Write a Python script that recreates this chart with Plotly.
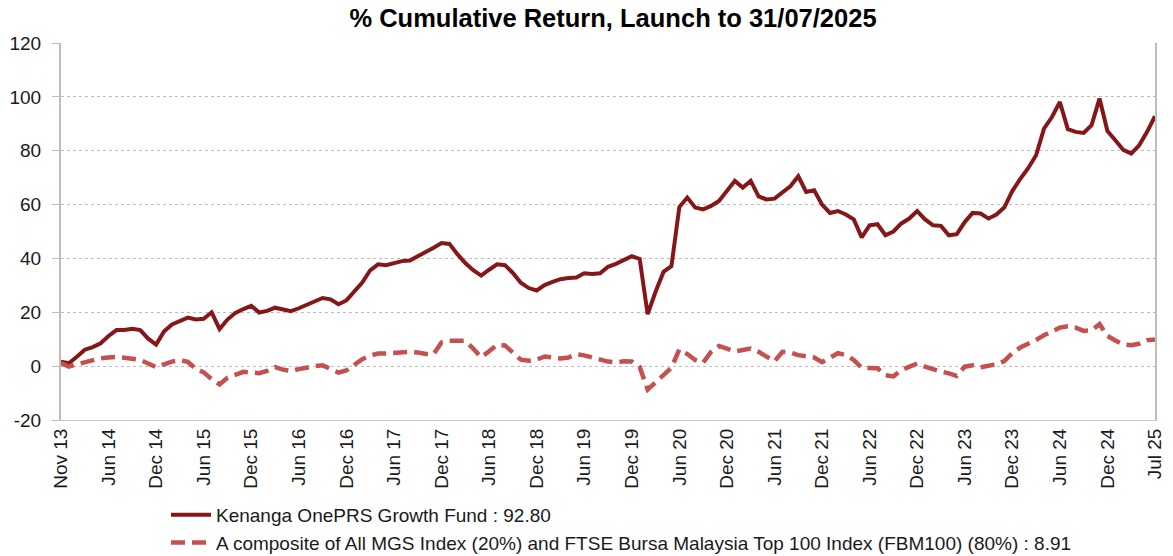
import plotly.graph_objects as go

title = "% Cumulative Return, Launch to 31/07/2025"
fund_name = "Kenanga OnePRS Growth Fund : 92.80"
bench_name = "A composite of All MGS Index (20%) and FTSE Bursa Malaysia Top 100 Index (FBM100) (80%) : 8.91"

tick_labels = ["Nov 13", "Jun 14", "Dec 14", "Jun 15", "Dec 15", "Jun 16", "Dec 16",
               "Jun 17", "Dec 17", "Jun 18", "Dec 18", "Jun 19", "Dec 19", "Jun 20",
               "Dec 20", "Jun 21", "Dec 21", "Jun 22", "Dec 22", "Jun 23", "Dec 23",
               "Jun 24", "Dec 24", "Jul 25"]
points_per_label = 6

fund = [1.6, 1.1, 3.5, 6.1, 7.1, 8.5, 11.2, 13.4, 13.4, 13.9,
        13.4, 10.2, 8.0, 12.9, 15.5, 16.9, 18.0, 17.3, 17.6, 20.0,
        13.8, 17.3, 19.8, 21.2, 22.4, 19.9, 20.5, 21.7, 21.0, 20.4,
        21.5, 22.9, 24.0, 25.3, 24.8, 23.0, 24.4, 27.6, 31.0, 35.6,
        37.8, 37.5, 38.3, 39.0, 39.2, 40.7, 42.4, 44.0, 45.7, 45.4,
        41.6, 38.3, 35.6, 33.6, 35.8, 37.8, 37.5, 34.6, 31.0, 29.0,
        28.1, 30.1, 31.3, 32.3, 32.7, 32.9, 34.5, 34.2, 34.5, 36.9,
        38.0, 39.3, 40.8, 39.8, 19.3, 27.6, 35.0, 37.1, 59.1, 62.6,
        58.9, 58.2, 59.5, 61.3, 64.9, 68.8, 66.3, 68.8, 63.0, 61.9,
        62.2, 64.5, 66.8, 70.5, 64.7, 65.3, 60.0, 56.9, 57.6, 56.3,
        54.5, 47.8, 52.3, 52.7, 48.6, 50.0, 53.0, 54.8, 57.6, 54.5,
        52.3, 52.1, 48.6, 49.0, 53.5, 56.9, 56.7, 54.8, 56.3, 59.0,
        65.0, 69.5, 73.5, 78.3, 88.2, 92.5, 98.1, 88.0, 87.0, 86.6,
        89.5, 99.4, 87.3, 83.9, 80.3, 78.9, 82.0, 87.0, 92.8]

bench = [1.2, -0.2, 0.7, 1.5, 2.3, 2.9, 3.2, 3.4, 3.1, 2.8,
         2.3, 1.0, -0.4, 0.7, 1.7, 2.2, 1.6, -1.0, -2.3, -4.8,
         -6.8, -4.3, -3.0, -2.1, -2.4, -2.6, -1.8, -0.4, -1.3, -1.8,
         -1.1, -0.4, 0.0, 0.3, -0.9, -2.4, -1.6, 0.3, 2.6, 3.9,
         4.7, 4.7, 4.9, 5.3, 5.3, 5.1, 4.5, 4.5, 8.8, 9.4,
         9.6, 9.4, 6.5, 3.3, 5.5, 7.9, 7.7, 5.0, 2.4, 2.0,
         2.4, 3.6, 3.1, 2.8, 3.2, 4.4, 4.0, 3.2, 2.4, 1.7,
         1.4, 1.8, 1.7, -0.3, -8.7, -6.0, -2.8, -0.6, 6.2, 4.5,
         2.3, 1.3, 5.3, 7.5, 6.5, 5.5, 6.0, 6.5, 5.3, 3.7,
         1.8, 5.3, 5.1, 4.1, 3.6, 3.2, 1.5, 3.2, 4.8, 4.1,
         2.3, -0.6, -0.6, -0.8, -3.4, -3.8, -1.5, -0.1, 1.0, -0.2,
         -1.2, -2.0, -2.7, -3.6, -0.2, 0.3, -0.4, 0.0, 0.7, 1.9,
         4.9, 6.9, 8.2, 9.7, 11.5, 12.8, 14.3, 14.8, 14.3, 13.1,
         13.3, 15.6, 11.2, 9.5, 8.1, 7.8, 8.3, 9.6, 9.9]

y_ticks = [-20, 0, 20, 40, 60, 80, 100, 120]
y_tick_labels = ["-20", "0", "20", "40", "60", "80", "100", "120"]

x = list(range(len(fund)))
tick_vals = [i * points_per_label for i in range(len(tick_labels))]

FONT = "Liberation Sans, Arial, sans-serif"
W, H = 1173, 556
ML, MR, MT, MB = 61, 18, 43, 136

fig = go.Figure()
fig.add_trace(go.Scatter(x=x, y=fund, mode="lines", name=fund_name,
                         line=dict(color="#861719", width=4)))
fig.add_trace(go.Scatter(x=x, y=bench, mode="lines", name=bench_name,
                         line=dict(color="#C4504F", width=4.5, dash="14px,7px")))

fig.update_layout(
    width=W, height=H,
    margin=dict(l=ML, r=MR, t=MT, b=MB, autoexpand=False),
    paper_bgcolor="white", plot_bgcolor="white",
    font=dict(family=FONT, size=19, color="#1a1a1a"),
    title=dict(text="<b>" + title + "</b>", x=613 / W, xanchor="center",
               xref="container", y=1 - 18 / H, yanchor="middle",
               font=dict(family=FONT, size=25.5, color="#000000")),
    showlegend=True,
    legend=dict(x=(166 - ML) / (W - ML - MR), xanchor="left",
                yref="container", y=1 - 496 / H, yanchor="top",
                orientation="v",
                font=dict(family=FONT, size=19, color="#1a1a1a"),
                bgcolor="rgba(0,0,0,0)", tracegroupgap=0, itemwidth=40),
    xaxis=dict(range=[0, len(fund) - 1], tickmode="array", tickvals=tick_vals,
               ticktext=tick_labels, tickangle=-90, showgrid=False,
               showline=True, linecolor="#c8c8c8", linewidth=1,
               ticks="", zeroline=False, automargin=False,
               tickfont=dict(family=FONT, size=19, color="#1a1a1a")),
    yaxis=dict(range=[-20, 120], tickmode="array", tickvals=y_ticks,
               ticktext=y_tick_labels,
               showgrid=True, gridcolor="#bdbdbd", griddash="dot", gridwidth=1,
               showline=True, linecolor="#bdbdbd", linewidth=2, mirror=True,
               ticks="outside", ticklen=7, tickcolor="#bdbdbd", tickwidth=1,
               ticklabelstandoff=7,
               zeroline=False, automargin=False,
               tickfont=dict(family=FONT, size=19, color="#1a1a1a")),
)

fig.write_html("out.html",
               config={"displayModeBar": False},
               post_script="document.body.style.margin='0';"
                           "document.body.style.overflow='hidden';")
